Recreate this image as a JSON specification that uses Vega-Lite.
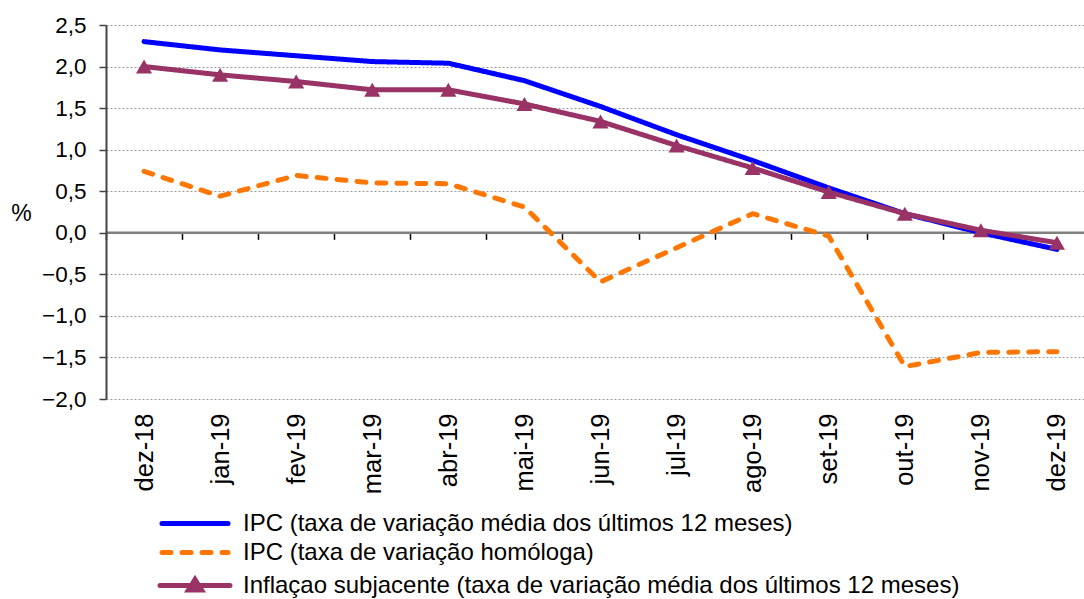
{
  "$schema": "https://vega.github.io/schema/vega-lite/v6.json",
  "width": 989,
  "height": 374,
  "autosize": "none",
  "padding": {"left": 106, "top": 25, "right": -11, "bottom": 200},
  "background": "white",
  "config": {
    "view": {"stroke": null},
    "font": "Liberation Sans",
    "axis": {"labelFont": "Liberation Sans", "titleFont": "Liberation Sans", "labelColor": "#000000", "titleColor": "#000000"},
    "legend": {"labelFont": "Liberation Sans"}
  },
  "data": {
    "values": [
      {"m": "dez-18", "s": "IPC (taxa de variação homóloga)", "v": 0.74},
      {"m": "jan-19", "s": "IPC (taxa de variação homóloga)", "v": 0.44},
      {"m": "fev-19", "s": "IPC (taxa de variação homóloga)", "v": 0.69},
      {"m": "mar-19", "s": "IPC (taxa de variação homóloga)", "v": 0.6},
      {"m": "abr-19", "s": "IPC (taxa de variação homóloga)", "v": 0.59},
      {"m": "mai-19", "s": "IPC (taxa de variação homóloga)", "v": 0.31},
      {"m": "jun-19", "s": "IPC (taxa de variação homóloga)", "v": -0.59},
      {"m": "jul-19", "s": "IPC (taxa de variação homóloga)", "v": -0.18},
      {"m": "ago-19", "s": "IPC (taxa de variação homóloga)", "v": 0.23},
      {"m": "set-19", "s": "IPC (taxa de variação homóloga)", "v": -0.04},
      {"m": "out-19", "s": "IPC (taxa de variação homóloga)", "v": -1.61},
      {"m": "nov-19", "s": "IPC (taxa de variação homóloga)", "v": -1.44},
      {"m": "dez-19", "s": "IPC (taxa de variação homóloga)", "v": -1.43},
      {"m": "dez-18", "s": "IPC (taxa de variação média dos últimos 12 meses)", "v": 2.3},
      {"m": "jan-19", "s": "IPC (taxa de variação média dos últimos 12 meses)", "v": 2.2},
      {"m": "fev-19", "s": "IPC (taxa de variação média dos últimos 12 meses)", "v": 2.13},
      {"m": "mar-19", "s": "IPC (taxa de variação média dos últimos 12 meses)", "v": 2.06},
      {"m": "abr-19", "s": "IPC (taxa de variação média dos últimos 12 meses)", "v": 2.04},
      {"m": "mai-19", "s": "IPC (taxa de variação média dos últimos 12 meses)", "v": 1.83},
      {"m": "jun-19", "s": "IPC (taxa de variação média dos últimos 12 meses)", "v": 1.52},
      {"m": "jul-19", "s": "IPC (taxa de variação média dos últimos 12 meses)", "v": 1.18},
      {"m": "ago-19", "s": "IPC (taxa de variação média dos últimos 12 meses)", "v": 0.87},
      {"m": "set-19", "s": "IPC (taxa de variação média dos últimos 12 meses)", "v": 0.54},
      {"m": "out-19", "s": "IPC (taxa de variação média dos últimos 12 meses)", "v": 0.23},
      {"m": "nov-19", "s": "IPC (taxa de variação média dos últimos 12 meses)", "v": 0.0},
      {"m": "dez-19", "s": "IPC (taxa de variação média dos últimos 12 meses)", "v": -0.2},
      {"m": "dez-18", "s": "Inflaçao subjacente (taxa de variação média dos últimos 12 meses)", "v": 2.0},
      {"m": "jan-19", "s": "Inflaçao subjacente (taxa de variação média dos últimos 12 meses)", "v": 1.9},
      {"m": "fev-19", "s": "Inflaçao subjacente (taxa de variação média dos últimos 12 meses)", "v": 1.82},
      {"m": "mar-19", "s": "Inflaçao subjacente (taxa de variação média dos últimos 12 meses)", "v": 1.72},
      {"m": "abr-19", "s": "Inflaçao subjacente (taxa de variação média dos últimos 12 meses)", "v": 1.72},
      {"m": "mai-19", "s": "Inflaçao subjacente (taxa de variação média dos últimos 12 meses)", "v": 1.55},
      {"m": "jun-19", "s": "Inflaçao subjacente (taxa de variação média dos últimos 12 meses)", "v": 1.34},
      {"m": "jul-19", "s": "Inflaçao subjacente (taxa de variação média dos últimos 12 meses)", "v": 1.05},
      {"m": "ago-19", "s": "Inflaçao subjacente (taxa de variação média dos últimos 12 meses)", "v": 0.78},
      {"m": "set-19", "s": "Inflaçao subjacente (taxa de variação média dos últimos 12 meses)", "v": 0.49},
      {"m": "out-19", "s": "Inflaçao subjacente (taxa de variação média dos últimos 12 meses)", "v": 0.23},
      {"m": "nov-19", "s": "Inflaçao subjacente (taxa de variação média dos últimos 12 meses)", "v": 0.03},
      {"m": "dez-19", "s": "Inflaçao subjacente (taxa de variação média dos últimos 12 meses)", "v": -0.12}
    ]
  },
  "resolve": {"axis": {"x": "independent"}},
  "layer": [
    {
      "mark": {"type": "line", "strokeWidth": 5, "strokeCap": "round", "strokeJoin": "round"},
      "encoding": {
        "x": {
          "field": "m", "type": "ordinal",
          "scale": {"type": "point", "padding": 0.5, "domain": ["dez-18","jan-19","fev-19","mar-19","abr-19","mai-19","jun-19","jul-19","ago-19","set-19","out-19","nov-19","dez-19"]},
          "axis": {"orient": "bottom", "offset": -166.7, "labels": false, "title": null, "domain": true, "domainColor": "#808080", "domainWidth": 2.5, "ticks": true, "tickColor": "#000000", "tickSize": 7, "tickWidth": 1.5, "tickOffset": -38.04, "grid": false}
        },
        "y": {
          "field": "v", "type": "quantitative",
          "scale": {"domain": [-2, 2.5], "nice": false, "zero": false},
          "axis": {
            "values": [-2, -1.5, -1, -0.5, 0, 0.5, 1, 1.5, 2, 2.5],
            "labelExpr": "replace(format(datum.value, '.1f'), '.', ',')",
            "labelFontSize": 22.5, "labelPadding": 13,
            "domain": true, "domainColor": "#444444", "domainWidth": 2,
            "ticks": true, "tickColor": "#444444", "tickSize": 7, "tickWidth": 1.5,
            "grid": true, "gridColor": "#9a9a9a", "gridDash": [2, 2], "gridWidth": 1,
            "title": "%", "titleAngle": 0, "titleFontSize": 23, "titleFontWeight": "normal",
            "titleX": -85, "titleY": 188, "titleAlign": "center", "titleBaseline": "middle"
          }
        },
        "color": {
          "field": "s", "type": "nominal",
          "scale": {
            "domain": ["IPC (taxa de variação média dos últimos 12 meses)", "IPC (taxa de variação homóloga)", "Inflaçao subjacente (taxa de variação média dos últimos 12 meses)"],
            "range": ["#0000ff", "#ff7700", "#993366"]
          },
          "legend": {
            "title": null, "orient": "none", "legendX": 76.5, "legendY": 486, "direction": "vertical",
            "symbolType": "stroke", "symbolSize": 400, "symbolStrokeWidth": 5,
            "labelFontSize": 24, "labelLimit": 0, "labelOffset": 35.5, "labelColor": "#000000",
            "rowPadding": 4, "padding": 0,
            "encode": {
              "symbols": {
                "update": {
                  "shape": {"signal": "datum.value === 'Inflaçao subjacente (taxa de variação média dos últimos 12 meses)' ? 'M-3.5,0H3.5M-0.65,0.45L0,-0.6L0.65,0.45Z' : 'M-3.3,0H3.3'"},
                  "fill": {"signal": "datum.value === 'Inflaçao subjacente (taxa de variação média dos últimos 12 meses)' ? '#993366' : 'transparent'"},
                  "strokeCap": {"value": "round"}
                }
              }
            }
          }
        },
        "strokeDash": {
          "field": "s", "type": "nominal",
          "scale": {
            "domain": ["IPC (taxa de variação média dos últimos 12 meses)", "IPC (taxa de variação homóloga)", "Inflaçao subjacente (taxa de variação média dos últimos 12 meses)"],
            "range": [[1, 0], [9, 11], [1, 0]]
          },
          "legend": {"title": null}
        }
      }
    },
    {
      "transform": [{"filter": "datum.s === 'Inflaçao subjacente (taxa de variação média dos últimos 12 meses)'"}],
      "mark": {"type": "point", "shape": "triangle-up", "filled": true, "opacity": 1, "size": 260, "color": "#993366"},
      "encoding": {
        "x": {
          "field": "m", "type": "ordinal",
          "axis": {"orient": "bottom", "title": null, "domain": false, "ticks": false, "grid": false, "labelAngle": -90, "labelFontSize": 25.5, "labelPadding": 14}
        },
        "y": {"field": "v", "type": "quantitative"}
      }
    }
  ]
}
